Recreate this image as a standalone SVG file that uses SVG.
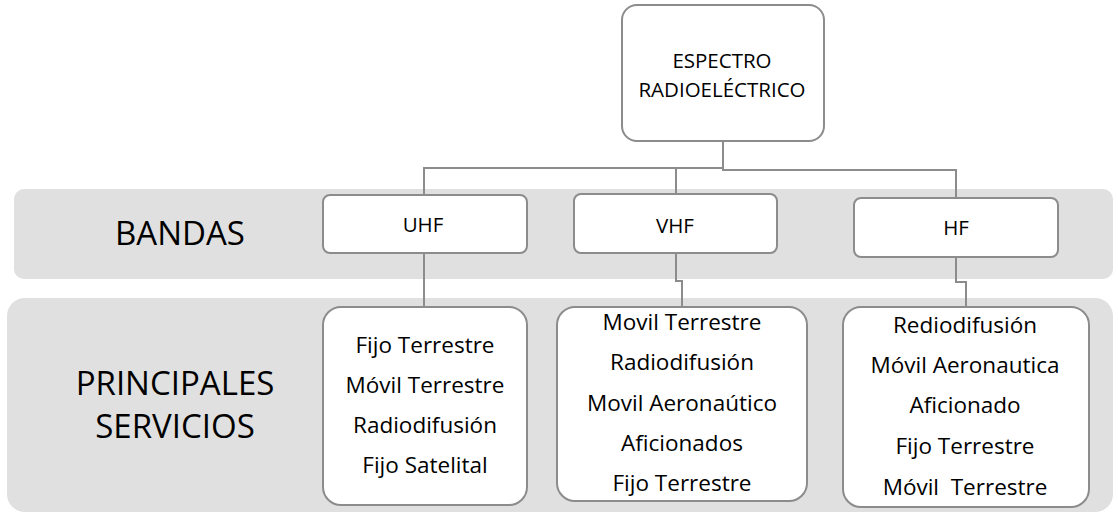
<svg xmlns="http://www.w3.org/2000/svg" width="1118" height="513" viewBox="0 0 1118 513">
<style>
.band{fill:#e0e0e0;stroke:none}
.box{fill:#ffffff;stroke:#8c8c8c;stroke-width:2}
.con{fill:none;stroke:#8c8c8c;stroke-width:2}
text{font-family:"Open Sans","Noto Sans",sans-serif;fill:#000;text-anchor:middle;white-space:pre}
.lbl{font-size:33px}
.band-t{font-size:20.5px}
.svc{font-size:22.5px}
</style>
<g id="band-bandas">
<rect class="band" x="14" y="189" width="1099" height="90" rx="10"/>
<text class="lbl" x="180" y="245">BANDAS</text>
</g>
<g id="band-servicios">
<rect class="band" x="7" y="298" width="1106" height="214" rx="18"/>
<text class="lbl" x="175" y="395">PRINCIPALES</text>
<text class="lbl" x="175" y="438">SERVICIOS</text>
</g>
<g id="connectors">
<path class="con" d="M723,141 V170 H956 V198"/>
<path class="con" d="M723,168 H424 V195"/>
<path class="con" d="M676,168 V194"/>
<path class="con" d="M424,253 V307"/>
<path class="con" d="M676,253 V281 H682 V307"/>
<path class="con" d="M956,257 V282 H966 V307"/>
</g>
<g id="espectro">
<rect class="box" x="622" y="5" width="202" height="136" rx="15"/>
<text class="band-t" x="722" y="68">ESPECTRO</text>
<text class="band-t" x="722" y="97">RADIOELÉCTRICO</text>
</g>
<g id="uhf">
<rect class="box" x="323" y="195" width="204" height="58" rx="7"/>
<text class="band-t" x="423" y="232">UHF</text>
</g>
<g id="vhf">
<rect class="box" x="574" y="194" width="203" height="59" rx="7"/>
<text class="band-t" x="675" y="233">VHF</text>
</g>
<g id="hf">
<rect class="box" x="854" y="198" width="204" height="59" rx="7"/>
<text class="band-t" x="956" y="235">HF</text>
</g>
<g id="uhf-servicios">
<rect class="box" x="323" y="307" width="204" height="198" rx="18"/>
<text class="svc" x="425" y="353">Fijo Terrestre</text>
<text class="svc" x="425" y="393">Móvil Terrestre</text>
<text class="svc" x="425" y="433">Radiodifusión</text>
<text class="svc" x="425" y="473">Fijo Satelital</text>
</g>
<g id="vhf-servicios">
<rect class="box" x="557" y="307" width="250" height="194" rx="18"/>
<text class="svc" x="682" y="330">Movil Terrestre</text>
<text class="svc" x="682" y="370">Radiodifusión</text>
<text class="svc" x="682" y="411">Movil Aeronaútico</text>
<text class="svc" x="682" y="451">Aficionados</text>
<text class="svc" x="682" y="491">Fijo Terrestre</text>
</g>
<g id="hf-servicios">
<rect class="box" x="843" y="307" width="246" height="200" rx="18"/>
<text class="svc" x="965" y="333">Rediodifusión</text>
<text class="svc" x="965" y="373">Móvil Aeronautica</text>
<text class="svc" x="965" y="413">Aficionado</text>
<text class="svc" x="965" y="454">Fijo Terrestre</text>
<text class="svc" x="965" y="495" xml:space="preserve">Móvil  Terrestre</text>
</g>
</svg>
